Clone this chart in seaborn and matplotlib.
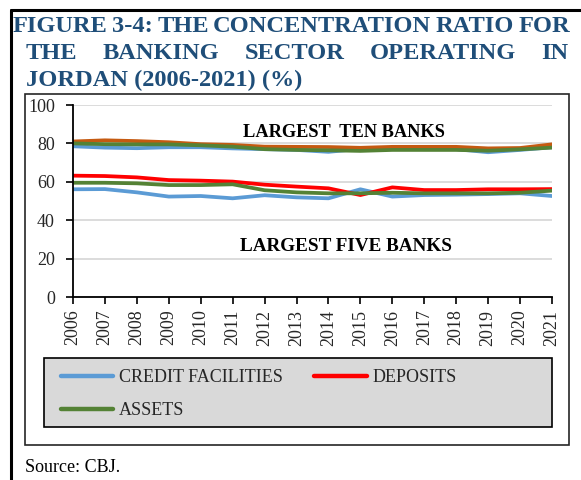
import matplotlib
matplotlib.use("Agg")
import matplotlib.pyplot as plt
import seaborn as sns
import pandas as pd
from matplotlib.patches import Rectangle
from matplotlib.lines import Line2D

# ---- data -----------------------------------------------------------------
years = list(range(2006, 2022))
year_labels = [str(y) for y in years]
y_ticks = [0, 20, 40, 60, 80, 100]

# largest ten banks (%)
ten_credit = [78.5, 77.8, 77.5, 78.0, 78.0, 77.4, 77.0, 76.6, 75.6, 77.2, 77.5, 77.0, 77.0, 75.4, 76.6, 78.0]
ten_deposits = [81.0, 81.6, 81.2, 80.6, 79.6, 79.2, 78.3, 78.2, 78.1, 77.7, 78.2, 78.2, 78.2, 77.4, 77.6, 79.5]
ten_assets = [80.0, 79.6, 79.5, 79.5, 79.0, 78.3, 77.0, 76.6, 76.4, 76.1, 76.6, 76.6, 76.6, 76.2, 76.9, 77.8]

# largest five banks (%)
five_credit = [56.1, 56.2, 54.5, 52.3, 52.6, 51.4, 53.0, 51.9, 51.4, 56.1, 52.3, 53.1, 53.3, 53.6, 54.0, 52.6]
five_deposits = [63.2, 63.0, 62.3, 60.9, 60.6, 60.1, 58.5, 57.5, 56.6, 53.1, 57.1, 55.7, 55.7, 56.1, 56.1, 56.2]
five_assets = [59.5, 59.5, 59.2, 58.3, 58.3, 58.7, 55.6, 54.5, 54.0, 54.0, 54.3, 54.0, 54.0, 54.0, 54.3, 55.4]

series_labels = ["CREDIT FACILITIES", "DEPOSITS", "ASSETS"]
group_labels = ["LARGEST  TEN BANKS", "LARGEST FIVE BANKS"]
title_lines = ["FIGURE 3-4: THE CONCENTRATION RATIO FOR",
               "THE BANKING SECTOR OPERATING IN",
               "JORDAN (2006-2021) (%)"]
source_text = "Source: CBJ."

# ---- style ----------------------------------------------------------------
sns.set_theme(style="white")
plt.rcParams["font.family"] = ["Liberation Serif", "DejaVu Serif"]

BLUE, RED, GREEN, ORANGE = "#5b9bd5", "#ff0000", "#548235", "#c55a11"
TITLE_COLOR = "#1f4e79"

W, H = 581, 480
fig = plt.figure(figsize=(W / 100, H / 100), dpi=100)


def fx(px):
    return px / W


def fy(py):
    return 1 - py / H


# outer frame (top and left rules)
fig.add_artist(Line2D([fx(11), fx(581)], [fy(10), fy(10)], color="black", lw=2.2))
fig.add_artist(Line2D([fx(11), fx(11)], [fy(10), fy(480)], color="black", lw=2.2))

# chart box
fig.add_artist(Rectangle((fx(25), fy(445)), fx(569) - fx(25), fy(94) - fy(445),
                         facecolor="none", edgecolor="#262626", lw=1.2))

# legend box
fig.add_artist(Rectangle((fx(44), fy(427)), fx(552) - fx(44), fy(358) - fy(427),
                         facecolor="#d9d9d9", edgecolor="black", lw=1.2, zorder=1))

# ---- plot -----------------------------------------------------------------
ax = fig.add_axes([fx(73), fy(297), fx(552) - fx(73), fy(105) - fy(297)])

keys = ["five_credit", "five_deposits", "five_assets",
        "ten_credit", "ten_deposits", "ten_assets"]
df = pd.DataFrame({
    "year": years * 6,
    "value": five_credit + five_deposits + five_assets + ten_credit + ten_deposits + ten_assets,
    "series": sum([[k] * len(years) for k in keys], []),
})
palette = {"five_credit": BLUE, "five_deposits": RED, "five_assets": GREEN,
           "ten_credit": BLUE, "ten_deposits": ORANGE, "ten_assets": GREEN}
for key in keys:
    sns.lineplot(data=df[df["series"] == key], x="year", y="value",
                 color=palette[key], lw=2.7, ax=ax, legend=False)

ax.set_xlim(years[0], years[-1])
ax.set_ylim(0, 100)
ax.set_yticks(y_ticks)
ax.set_xticks(years)
ax.set_xticklabels(year_labels, rotation=90)
ax.set_xlabel("")
ax.set_ylabel("")
ax.yaxis.grid(True, color="#d9d9d9", lw=1.3)
ax.xaxis.grid(False)
ax.set_axisbelow(True)
ax.patch.set_alpha(0)
for s in ["top", "right"]:
    ax.spines[s].set_visible(False)
for s in ["left", "bottom"]:
    ax.spines[s].set_color("black")
    ax.spines[s].set_linewidth(1.3)
ax.tick_params(axis="y", direction="out", length=5, width=1.2, color="black",
               labelsize=13, pad=8, left=True)
ax.tick_params(axis="x", direction="out", length=5, width=1.2, color="black",
               labelsize=13, pad=4, bottom=True)


def data_x(px):
    return years[0] + (px - 73) / (552 - 73) * (years[-1] - years[0])


def data_y(py):
    return (297 - py) / 1.92


ax.text(data_x(344), data_y(137), group_labels[0],
        ha="center", va="baseline", fontsize=13.2, fontweight="bold", color="black")
ax.text(data_x(346), data_y(251), group_labels[1],
        ha="center", va="baseline", fontsize=13.8, fontweight="bold", color="black")

# ---- legend ---------------------------------------------------------------
handles = [Line2D([], [], color=BLUE, lw=3.2, solid_capstyle="round"),
           Line2D([], [], color=GREEN, lw=3.2, solid_capstyle="round"),
           Line2D([], [], color=RED, lw=3.2, solid_capstyle="round")]
labels = [series_labels[0], series_labels[2], series_labels[1]]
fig.legend(handles, labels, loc="upper left", bbox_to_anchor=(fx(61), fy(369)),
           ncol=2, frameon=False, fontsize=13, handlelength=2.9, handletextpad=0.3,
           columnspacing=1.75, labelspacing=0.9, borderpad=0, borderaxespad=0)

# ---- title (justified lines) ----------------------------------------------
renderer = fig.canvas.get_renderer()


def justified(line, x0, x1, baseline, size):
    words = line.split()
    texts = [fig.text(0, fy(baseline), w, fontsize=size, fontweight="bold",
                      color=TITLE_COLOR, va="baseline", ha="left") for w in words]
    widths = [t.get_window_extent(renderer).width for t in texts]
    gap = (x1 - x0 - sum(widths)) / (len(words) - 1)
    x = x0
    for t, w in zip(texts, widths):
        t.set_x(fx(x))
        x += w + gap


TSIZE = 17.6
justified(title_lines[0], 13, 570, 32, TSIZE)
justified(title_lines[1], 26, 568, 59, TSIZE)
fig.text(fx(26), fy(86), title_lines[2], fontsize=TSIZE, fontweight="bold",
         color=TITLE_COLOR, va="baseline", ha="left")

fig.text(fx(25), fy(472), source_text, fontsize=13, color="black",
         va="baseline", ha="left")

fig.savefig("out.png", dpi=100)
